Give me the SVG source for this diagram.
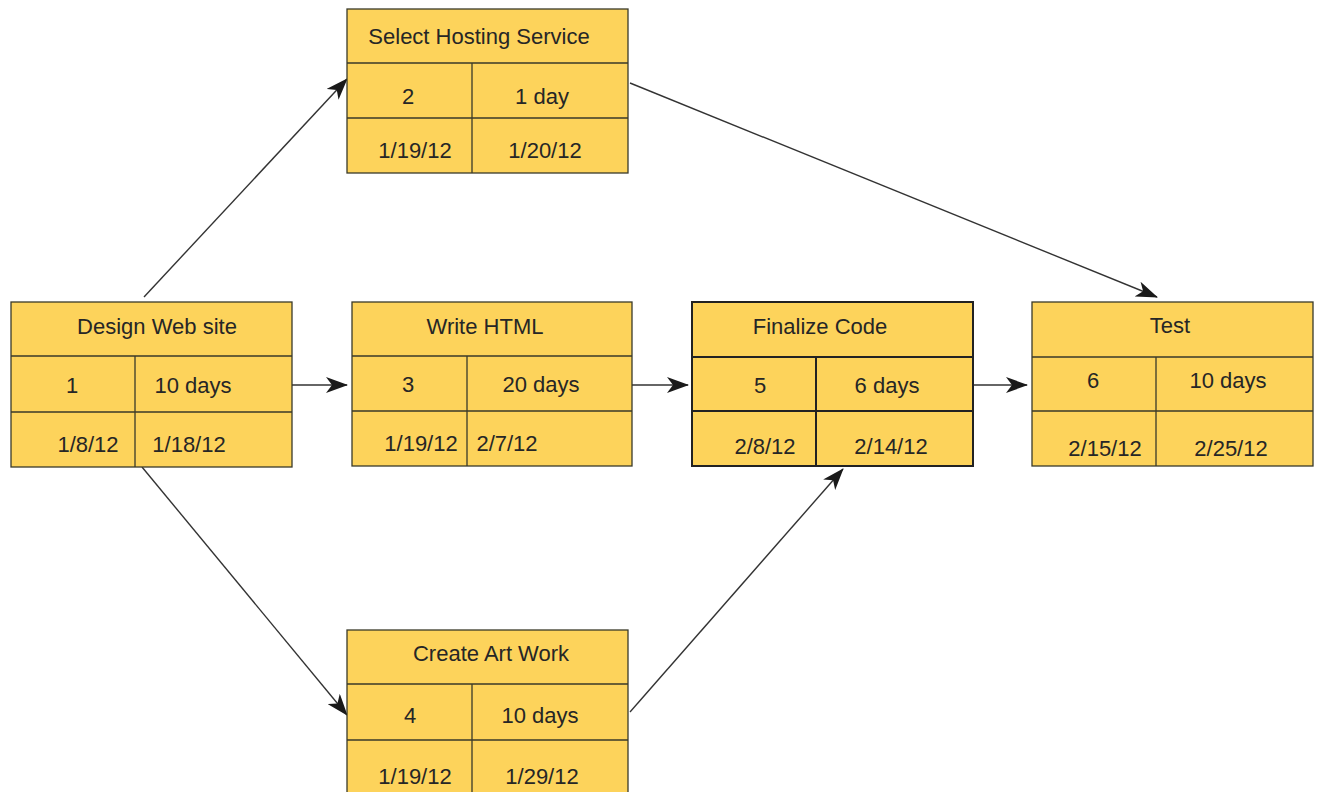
<svg xmlns="http://www.w3.org/2000/svg" width="1317" height="792" viewBox="0 0 1317 792">
<style>
.box{fill:#FDD35B;stroke:#3a3a2a;stroke-width:1.3}
.box2{fill:#FDD35B;stroke:#222;stroke-width:2}
.ln{stroke:#3a3a2a;stroke-width:1.3;fill:none}
.ln2{stroke:#222;stroke-width:2;fill:none}
text{font-family:"Liberation Sans",Arial,sans-serif;font-size:22px;fill:#262626;text-anchor:middle}
.c{stroke:#333;stroke-width:1.4;fill:none;marker-end:url(#ah)}
</style>
<defs>
<marker id="ah" viewBox="0 0 22 16" refX="21" refY="8" markerWidth="22" markerHeight="16" markerUnits="userSpaceOnUse" orient="auto">
<path d="M0,0 L22,8 L0,16 L6,8 Z" fill="#1a1a1a"/>
</marker>
</defs>
<rect width="1317" height="792" fill="#fff"/>
<g id="connectors">
<line class="c" x1="144" y1="297" x2="347" y2="79"/>
<line class="c" x1="630" y1="83" x2="1157" y2="297"/>
<line class="c" x1="292" y1="385" x2="347" y2="385"/>
<line class="c" x1="632" y1="385" x2="688" y2="385"/>
<line class="c" x1="973" y1="385" x2="1027" y2="385"/>
<line class="c" x1="142" y1="467" x2="347" y2="715"/>
<line class="c" x1="630" y1="712" x2="843" y2="469"/>
</g>
<g id="n1">
<rect class="box" x="11" y="302" width="281" height="165"/>
<path class="ln" d="M11,356H292M11,412H292M135,356V467"/>
<text x="157" y="334">Design Web site</text>
<text x="72" y="393">1</text>
<text x="193" y="393">10 days</text>
<text x="88" y="452">1/8/12</text>
<text x="189" y="452">1/18/12</text>
</g>
<g id="n2">
<rect class="box" x="347" y="9" width="281" height="164"/>
<path class="ln" d="M347,63H628M347,118H628M472,63V173"/>
<text x="479" y="44">Select Hosting Service</text>
<text x="408" y="104">2</text>
<text x="542" y="104">1 day</text>
<text x="415" y="158">1/19/12</text>
<text x="545" y="158">1/20/12</text>
</g>
<g id="n3">
<rect class="box" x="352" y="302" width="280" height="164"/>
<path class="ln" d="M352,356H632M352,411H632M467,356V466"/>
<text x="485" y="334">Write HTML</text>
<text x="408" y="392">3</text>
<text x="541" y="392">20 days</text>
<text x="421" y="451">1/19/12</text>
<text x="507" y="451">2/7/12</text>
</g>
<g id="n4">
<rect class="box" x="347" y="630" width="281" height="170"/>
<path class="ln" d="M347,684H628M347,740H628M472,684V800"/>
<text x="491" y="661">Create Art Work</text>
<text x="410" y="723">4</text>
<text x="540" y="723">10 days</text>
<text x="415" y="784">1/19/12</text>
<text x="542" y="784">1/29/12</text>
</g>
<g id="n5">
<rect class="box2" x="692" y="302" width="281" height="164"/>
<path class="ln2" d="M692,357H973M692,411H973M816,357V466"/>
<text x="820" y="334">Finalize Code</text>
<text x="760" y="393">5</text>
<text x="887" y="393">6 days</text>
<text x="765" y="454">2/8/12</text>
<text x="891" y="454">2/14/12</text>
</g>
<g id="n6">
<rect class="box" x="1032" y="302" width="281" height="164"/>
<path class="ln" d="M1032,357H1313M1032,411H1313M1156,357V466"/>
<text x="1170" y="333">Test</text>
<text x="1093" y="388">6</text>
<text x="1228" y="388">10 days</text>
<text x="1105" y="456">2/15/12</text>
<text x="1231" y="456">2/25/12</text>
</g>
</svg>
